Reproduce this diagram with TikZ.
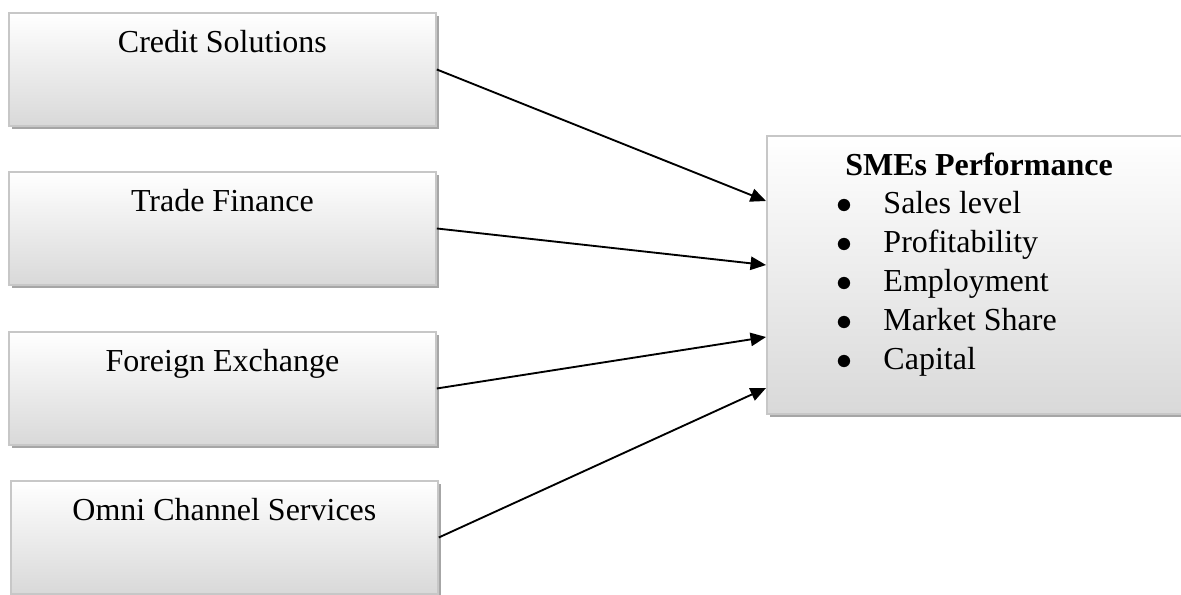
\documentclass[tikz,border=0pt]{standalone}
\usepackage{fontspec}
\setmainfont{Liberation Serif}
\usetikzlibrary{arrows.meta,shadows}
\tikzset{
    %Define standard arrow tip
    >={Triangle[length=5.8pt,width=5pt]},
    %Define style for the shaded boxes
    factor/.style={
           rectangle,
           draw=black!22, line width=0.7pt,
           top color=white, bottom color=black!15,
           drop shadow={shadow xshift=1.1pt, shadow yshift=-1.1pt, fill=black!35, opacity=1},
           minimum width=160.1pt,
           minimum height=42.4pt,
           inner sep=0pt,
           text height=15pt,
           text depth=27.4pt,
           font=\fontsize{12}{14}\selectfont,
           anchor=north west},
    outcome/.style={
           rectangle,
           draw=black!22, line width=0.7pt,
           top color=white, bottom color=black!15,
           drop shadow={shadow xshift=1.1pt, shadow yshift=-1.1pt, fill=black!35, opacity=1},
           minimum width=161.3pt,
           minimum height=104.3pt,
           inner sep=0pt,
           anchor=north west},
    item/.style={
           font=\fontsize{12}{14}\selectfont,
           inner sep=0pt,
           anchor=base west},
    % Define arrow style
    pil/.style={
           ->,
           line width=0.7pt}
}
\newcommand{\perfbullet}{\makebox[17.6pt][l]{$\bullet$}}

\begin{document}
\begin{tikzpicture}[x=0.375pt,y=-0.375pt]
\useasboundingbox (0,0) rectangle (1181,594);
% services on the left
\node[factor] (credit) at (8,12) {Credit Solutions};
\node[factor] (trade) at (8,171) {Trade Finance};
\node[factor] (forex) at (8,331) {Foreign Exchange};
\node[factor] (omni) at (10,480) {Omni Channel Services};
% performance box on the right
\node[outcome] (perf) at (766,135) {};
\node[item, font=\fontsize{12}{14}\selectfont\bfseries, anchor=base] (title) at (979,175) {SMEs Performance};
\foreach \txt [count=\i] in {Sales level,Profitability,Employment,Market Share,Capital}
    \node[item] (item\i) at (836,174+39*\i) {\perfbullet\txt};
\path[pil]
    (credit.east) edge ([shift={(0,-74)}]perf.west)
    (trade.east) edge ([shift={(0,-10)}]perf.west)
    (forex.east) edge ([shift={(0,62)}]perf.west)
    (omni.east) edge ([shift={(0,113)}]perf.west);
\end{tikzpicture}
\end{document}
